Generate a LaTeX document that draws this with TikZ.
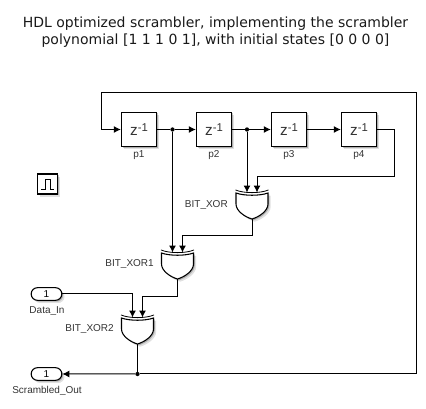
\documentclass[tikz,border=0pt]{standalone}
\usepackage{fontspec}
\setmainfont{Liberation Sans}
\newfontfamily\titlefont{DejaVu Sans}
\usetikzlibrary{arrows.meta,shadows,shapes.misc}
\tikzset{
  softshadow/.style={drop shadow={shadow xshift=2pt,shadow yshift=-2pt,fill=black,opacity=0.12},
    drop shadow={shadow xshift=1pt,shadow yshift=-1pt,fill=black,opacity=0.22}},
  delay/.style={draw,fill=white,line width=0.8pt,minimum width=26.5pt,minimum height=26pt,inner sep=0pt,softshadow,text=black!80},
  port/.style={rounded rectangle,draw,fill=white,line width=0.8pt,minimum width=23pt,minimum height=9.5pt,inner sep=0pt,softshadow,font=\fontsize{7.5}{9}\selectfont},
  lbl/.style={inner sep=0pt,text=black!80,font=\fontsize{7.5}{9}\selectfont},
  sig/.style={line width=0.75pt,-{Latex[length=5.2pt,width=5.2pt]}},
  wire/.style={line width=0.75pt},
  dot/.style={circle,fill=black,inner sep=0pt,minimum size=3.2pt},
  xorgate/.pic={
    \path[draw,fill=white,line width=0.8pt,softshadow] (-16,3) .. controls (-8,6) and (8,6) .. (16,3)
      -- (16,14) .. controls (16,21) and (7,27) .. (0,29) .. controls (-7,27) and (-16,21) .. (-16,14) -- cycle;
    \draw[line width=0.6pt] (-16.5,0) .. controls (-8,3.5) and (8,3.5) .. (16.5,0);
    \coordinate (-a) at (-5,2.5);
    \coordinate (-b) at (5,2.5);
    \coordinate (-out) at (0,29);
  }
}
\newcommand{\zinv}{{\fontsize{11.5}{12}\selectfont z}\raisebox{3.2pt}{\fontsize{8.5}{9}\selectfont -1}}
\begin{document}
\begin{tikzpicture}[x=0.75pt,y=-0.75pt,line join=miter]
  \useasboundingbox (0,0) rectangle (426,409);
  \node[font=\titlefont\fontsize{10.5}{12.8}\selectfont,align=center,text=black!90] (title) at (215.5,32)
    {HDL optimized scrambler, implementing the scrambler\\polynomial [1 1 1 0 1], with initial states [0 0 0 0]};

  \node[delay] (p1) at (139,129.5) {\zinv};
  \node[delay] (p2) at (214,129.5) {\zinv};
  \node[delay] (p3) at (289,129.5) {\zinv};
  \node[delay] (p4) at (359,129.5) {\zinv};
  \node[lbl] (p1lbl) at (139,155) {p1};
  \node[lbl] (p2lbl) at (214,155) {p2};
  \node[lbl] (p3lbl) at (289,155) {p3};
  \node[lbl] (p4lbl) at (359,155) {p4};

  \node[draw,fill=white,line width=0.8pt,minimum size=15pt,inner sep=0pt,softshadow] (pulse) at (47.5,184) {};
  \draw[line width=0.6pt] (41,189.5) -- (45,189.5) -- (45,179.5) -- (50.5,179.5) -- (50.5,189.5) -- (54,189.5);

  \pic (xor) at (252,190) {xorgate};
  \pic (xora) at (177.5,250) {xorgate};
  \pic (xorb) at (137.5,315) {xorgate};
  \node[lbl,anchor=east] (xorlbl) at (228,205) {BIT\_XOR};
  \node[lbl,anchor=east] (xoralbl) at (154,264) {BIT\_XOR1};
  \node[lbl,anchor=east] (xorblbl) at (114,329) {BIT\_XOR2};

  \node[port] (datain) at (46.5,294) {1};
  \node[port] (dataout) at (46.5,374) {1};
  \node[lbl] (datainlbl) at (47,311) {Data\_In};
  \node[lbl] (dataoutlbl) at (47,391) {Scrambled\_Out};

  \node[dot] (j1) at (172.5,129.5) {};
  \node[dot] (j2) at (247,129.5) {};
  \node[dot] (j3) at (137.5,374) {};
  \coordinate (fbbr) at (416,374);
  \coordinate (fbtr) at (416,93);
  \coordinate (fbtl) at (101,93);
  \coordinate (p4r) at (394,177);
  \coordinate (xorbend) at (252,236);
  \coordinate (xorabend) at (177.5,297);

  \draw[wire] (p1) -- (j1);
  \draw[sig] (j1) -- (p2);
  \draw[wire] (p2) -- (j2);
  \draw[sig] (j2) -- (p3);
  \draw[sig] (p3) -- (p4);
  \draw[sig] (j1) -- (xora-a);
  \draw[sig] (j2) -- (xor-a);
  \draw[sig] (p4) -| (p4r) -| (xor-b);
  \draw[sig] (xor-out) -- (xorbend) -| (xora-b);
  \draw[sig] (xora-out) -- (xorabend) -| (xorb-b);
  \draw[sig] (datain) -| (xorb-a);
  \draw[wire] (xorb-out) -- (j3);
  \draw[sig] (j3) -- (dataout);
  \draw[sig] (j3) -- (fbbr) -- (fbtr) -- (fbtl) |- (p1);
\end{tikzpicture}
\end{document}
